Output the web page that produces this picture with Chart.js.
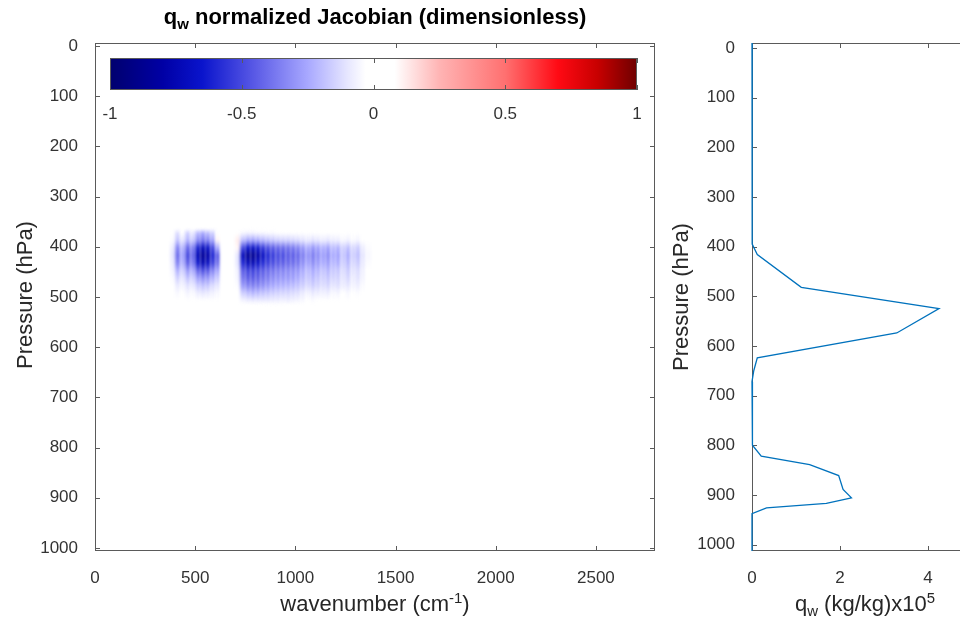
<!DOCTYPE html>
<html>
<head>
<meta charset="utf-8">
<script src="https://cdn.jsdelivr.net/npm/chart.js@4.4.1/dist/chart.umd.min.js"></script>
<style>
  html, body { margin: 0; padding: 0; background: #fff; overflow: hidden; }
  body { width: 960px; height: 622px; position: relative; font-family: "Liberation Sans", Arial, sans-serif; color: #262626; }
  canvas { position: absolute; top: 0; }
  .lbl { position: absolute; font-size: 22px; white-space: nowrap; transform: translate(-50%, -50%); line-height: 1; z-index: 5; }
  .lbl sub, .lbl sup { font-size: 68%; line-height: 0; }
  .rot { transform: translate(-50%, -50%) rotate(-90deg); }
  #title { font-weight: bold; color: #000; }
</style>
</head>
<body>
<canvas id="jac" width="670" height="622" style="left:0"></canvas>
<canvas id="cbar" width="560" height="75" style="left:95px; top:50px"></canvas>
<canvas id="prof" width="290" height="622" style="left:690px"></canvas>

<div class="lbl" id="title" style="left:375px; top:17px">q<sub>w</sub> normalized Jacobian (dimensionless)</div>
<div class="lbl" style="left:375px; top:604px">wavenumber (cm<sup>-1</sup>)</div>
<div class="lbl rot" style="left:25px; top:295px">Pressure (hPa)</div>
<div class="lbl rot" style="left:681px; top:297px">Pressure (hPa)</div>
<div class="lbl" style="left:865px; top:604px">q<sub>w</sub> (kg/kg)x10<sup>5</sup></div>

<script>
// jacobian grid: wavenumber bin edges (cm-1) and pressure rows (hPa)
const wnEdges = [375, 400, 425, 450, 475, 500, 525, 550, 575, 600, 625, 650, 675, 700, 725, 750, 775, 800, 825, 850,
                 875, 900, 925, 950, 975, 1000, 1025, 1050, 1075, 1100, 1125, 1150, 1175, 1200, 1225, 1250, 1275, 1300, 1325, 1350, 1375];
const jacPressure = [372, 387, 402, 417, 432, 447, 462, 477, 492, 507];

// normalized jacobian, one row per pressure level, one value per wavenumber bin
const jacobian = [
  [0, -0.12, 0, -0.15, -0.08, -0.2, -0.25, -0.2, -0.15, 0.08,   0, 0, 0, 0.05, -0.05, -0.06, -0.06, -0.05, -0.05, -0.04,
   -0.04, -0.03, -0.03, -0.03, -0.03, -0.02, -0.02, -0.02, -0.03, -0.02,   -0.02, -0.02, -0.02, -0.02, 0, -0.02, 0, -0.01, 0, 0],
  [-0.04, -0.18, -0.1, -0.22, -0.16, -0.32, -0.38, -0.35, -0.27, 0.1,   0, 0, 0, 0.12, -0.2, -0.26, -0.27, -0.25, -0.22, -0.2,
   -0.18, -0.16, -0.15, -0.15, -0.14, -0.13, -0.11, -0.09, -0.11, -0.1,   -0.08, -0.1, -0.08, -0.08, -0.05, -0.07, -0.04, -0.06, -0.03, -0.01],
  [-0.08, -0.34, -0.21, -0.42, -0.34, -0.61, -0.72, -0.68, -0.51, -0.25,   0, 0, 0, 0.1, -0.5, -0.65, -0.68, -0.64, -0.56, -0.5,
   -0.46, -0.43, -0.42, -0.4, -0.38, -0.35, -0.3, -0.24, -0.3, -0.27,   -0.23, -0.27, -0.2, -0.23, -0.15, -0.2, -0.13, -0.17, -0.08, -0.04],
  [-0.1, -0.4, -0.25, -0.5, -0.4, -0.72, -0.85, -0.8, -0.6, -0.45,   -0.03, 0, 0, -0.1, -0.72, -0.85, -0.88, -0.8, -0.7, -0.6,
   -0.55, -0.5, -0.5, -0.45, -0.45, -0.42, -0.36, -0.3, -0.36, -0.32,   -0.27, -0.32, -0.24, -0.27, -0.17, -0.24, -0.15, -0.2, -0.1, -0.05],
  [-0.08, -0.35, -0.22, -0.44, -0.35, -0.63, -0.75, -0.7, -0.53, -0.4,   -0.02, 0, 0, -0.1, -0.6, -0.72, -0.74, -0.68, -0.6, -0.54,
   -0.5, -0.46, -0.45, -0.42, -0.41, -0.38, -0.32, -0.26, -0.32, -0.28,   -0.24, -0.28, -0.21, -0.24, -0.15, -0.21, -0.13, -0.17, -0.09, -0.04],
  [-0.06, -0.23, -0.15, -0.29, -0.23, -0.42, -0.49, -0.46, -0.35, -0.26,   0, 0, 0, -0.07, -0.45, -0.52, -0.53, -0.5, -0.46, -0.42,
   -0.39, -0.36, -0.35, -0.33, -0.32, -0.3, -0.25, -0.2, -0.25, -0.22,   -0.18, -0.22, -0.17, -0.18, -0.12, -0.17, -0.1, -0.13, -0.07, -0.03],
  [-0.04, -0.15, -0.1, -0.19, -0.15, -0.27, -0.32, -0.3, -0.23, -0.17,   0, 0, 0, -0.06, -0.38, -0.45, -0.46, -0.44, -0.4, -0.37,
   -0.33, -0.31, -0.3, -0.29, -0.28, -0.25, -0.21, -0.17, -0.21, -0.18,   -0.15, -0.18, -0.14, -0.15, -0.1, -0.14, -0.08, -0.11, -0.06, -0.02],
  [-0.02, -0.09, -0.06, -0.11, -0.09, -0.16, -0.19, -0.18, -0.13, -0.1,   0, 0, 0, -0.04, -0.29, -0.35, -0.36, -0.35, -0.32, -0.29,
   -0.26, -0.24, -0.23, -0.22, -0.21, -0.19, -0.16, -0.13, -0.16, -0.14,   -0.12, -0.14, -0.1, -0.12, -0.08, -0.1, -0.06, -0.08, -0.04, -0.01],
  [-0.01, -0.05, -0.03, -0.06, -0.04, -0.08, -0.1, -0.09, -0.07, -0.05,   0, 0, 0, -0.02, -0.16, -0.2, -0.22, -0.21, -0.19, -0.18,
   -0.16, -0.15, -0.14, -0.14, -0.13, -0.12, -0.09, -0.06, -0.09, -0.08,   -0.07, -0.08, -0.05, -0.06, -0.03, -0.05, -0.03, -0.04, -0.02, 0],
  [0, -0.02, 0, -0.02, -0.01, -0.03, -0.03, -0.03, -0.02, -0.02,   0, 0, 0, 0, -0.06, -0.08, -0.09, -0.09, -0.09, -0.09,
   -0.08, -0.08, -0.07, -0.08, -0.07, -0.06, -0.05, -0.03, -0.04, -0.03,   -0.03, -0.03, -0.02, -0.02, -0.01, -0.02, -0.01, -0.01, 0, 0]
];

// blue-white-red colormap
const cmapValues = [-1, -0.8, -0.65, -0.45, -0.25, -0.1, -0.03, 0.08, 0.25, 0.5, 0.7, 0.85, 1];
const cmapColors = ['#00006e', '#0000a5', '#0a14cc', '#5a5ae6', '#a8a8ff', '#e6e6ff', '#ffffff', '#ffffff',
                    '#ffb4b4', '#ff7070', '#ff0a14', '#c80000', '#6e0000'];
const colorbarTicks = [-1, -0.5, 0, 0.5, 1];

const wnTicks = [0, 500, 1000, 1500, 2000, 2500];
const pressureTicks = [0, 100, 200, 300, 400, 500, 600, 700, 800, 900, 1000];

// water vapour profile (x1e5 kg/kg)
const profilePressure = [-10, 100, 200, 300, 372, 395, 416, 482, 525, 574, 624, 650, 672, 750, 800, 822, 839, 861, 889, 906, 917, 926, 938, 1000, 1013];
const profileQw = [0, 0, 0, 0, 0, 0.02, 0.12, 1.12, 4.25, 3.29, 0.12, 0.04, 0, 0, 0.02, 0.21, 1.31, 1.97, 2.07, 2.26, 1.69, 0.33, 0, 0, 0];
const qwTicks = [0, 2, 4];

Chart.defaults.font.family = '"Liberation Sans", Arial, sans-serif';
Chart.defaults.font.size = 17;
Chart.defaults.color = '#333333';

function hexRgb(h) {
  return [parseInt(h.slice(1, 3), 16), parseInt(h.slice(3, 5), 16), parseInt(h.slice(5, 7), 16)];
}
function colorFor(v) {
  if (v <= cmapValues[0]) return cmapColors[0];
  for (let i = 1; i < cmapValues.length; i++) {
    if (v <= cmapValues[i]) {
      const t = (v - cmapValues[i - 1]) / (cmapValues[i] - cmapValues[i - 1]);
      const a = hexRgb(cmapColors[i - 1]), b = hexRgb(cmapColors[i]);
      return 'rgb(' + a.map((c, k) => Math.round(c + (b[k] - c) * t)).join(',') + ')';
    }
  }
  return cmapColors[cmapColors.length - 1];
}

// box around the axes with inward ticks on all sides (matlab style)
const framePlugin = {
  id: 'frame',
  beforeDatasetsDraw(chart) {
    const { ctx, chartArea: a, scales } = chart;
    const len = 5;
    ctx.save();
    ctx.strokeStyle = '#5a5a5a';
    ctx.lineWidth = 1;
    ctx.strokeRect(a.left + 0.5, a.top + 0.5, a.right - a.left - 1, a.bottom - a.top - 1);
    ctx.beginPath();
    scales.x.ticks.forEach(t => {
      const px = Math.round(scales.x.getPixelForValue(t.value)) + 0.5;
      ctx.moveTo(px, a.bottom); ctx.lineTo(px, a.bottom - len);
      ctx.moveTo(px, a.top); ctx.lineTo(px, a.top + len);
    });
    if (scales.y.options.display) {
      scales.y.ticks.forEach(t => {
        const py = Math.round(scales.y.getPixelForValue(t.value)) + 0.5;
        ctx.moveTo(a.left, py); ctx.lineTo(a.left + len, py);
        ctx.moveTo(a.right, py); ctx.lineTo(a.right - len, py);
      });
    }
    ctx.stroke();
    ctx.restore();
  }
};

const heatmapPlugin = {
  id: 'heatmap',
  beforeDraw(chart) {
    const { ctx, chartArea: a, scales: { x, y } } = chart;
    const half = (jacPressure[1] - jacPressure[0]) / 2;
    const yTop = y.getPixelForValue(jacPressure[0] - half);
    const yBot = y.getPixelForValue(jacPressure[jacPressure.length - 1] + half);
    ctx.save();
    ctx.beginPath();
    ctx.rect(a.left, a.top, a.right - a.left, a.bottom - a.top);
    ctx.clip();
    ctx.filter = 'blur(1.6px)';
    for (let c = 0; c < wnEdges.length - 1; c++) {
      const x0 = x.getPixelForValue(wnEdges[c]);
      const x1 = x.getPixelForValue(wnEdges[c + 1]);
      const g = ctx.createLinearGradient(0, yTop, 0, yBot);
      g.addColorStop(0, colorFor(0));
      jacPressure.forEach((p, r) => {
        g.addColorStop((y.getPixelForValue(p) - yTop) / (yBot - yTop), colorFor(jacobian[r][c]));
      });
      g.addColorStop(1, colorFor(0));
      ctx.fillStyle = g;
      ctx.fillRect(x0, yTop, x1 - x0 + 0.6, yBot - yTop);
    }
    ctx.restore();
  }
};

const colorbarPlugin = {
  id: 'colorbar',
  beforeDatasetsDraw(chart) {
    const { ctx, chartArea: a, scales: { x } } = chart;
    const g = ctx.createLinearGradient(x.getPixelForValue(-1), 0, x.getPixelForValue(1), 0);
    cmapValues.forEach((v, i) => g.addColorStop((v + 1) / 2, cmapColors[i]));
    ctx.save();
    ctx.fillStyle = g;
    ctx.fillRect(a.left, a.top, a.right - a.left, a.bottom - a.top);
    ctx.restore();
  }
};

const noGrid = { display: false };

new Chart(document.getElementById('jac'), {
  type: 'scatter',
  data: { datasets: [{ data: [] }] },
  options: {
    responsive: false, animation: false, devicePixelRatio: 1,
    layout: { padding: { top: 43, right: 15, left: 0, bottom: 0 } },
    plugins: { legend: { display: false }, tooltip: { enabled: false } },
    scales: {
      x: {
        type: 'linear', min: 0, max: 2795,
        grid: noGrid, border: { display: false },
        afterBuildTicks: s => { s.ticks = wnTicks.map(v => ({ value: v })); },
        afterFit: s => { s.height = 71; },
        ticks: { padding: 9, maxRotation: 0, callback: v => String(v) }
      },
      y: {
        type: 'linear', reverse: true, min: -6, max: 1006,
        grid: noGrid, border: { display: false },
        afterBuildTicks: s => { s.ticks = pressureTicks.map(v => ({ value: v })); },
        afterFit: s => { s.width = 95; },
        ticks: { padding: 9, callback: v => String(v) }
      }
    }
  },
  plugins: [heatmapPlugin, framePlugin]
});

new Chart(document.getElementById('cbar'), {
  type: 'scatter',
  data: { datasets: [{ data: [] }] },
  options: {
    responsive: false, animation: false, devicePixelRatio: 1,
    layout: { padding: { top: 8, right: 18, left: 15, bottom: 0 } },
    plugins: { legend: { display: false }, tooltip: { enabled: false } },
    scales: {
      x: {
        type: 'linear', min: -1, max: 1,
        grid: noGrid, border: { display: false },
        afterBuildTicks: s => { s.ticks = colorbarTicks.map(v => ({ value: v })); },
        afterFit: s => { s.height = 35; },
        ticks: { padding: 6, maxRotation: 0, callback: v => String(v) }
      },
      y: { display: false, min: 0, max: 1 }
    }
  },
  plugins: [colorbarPlugin, framePlugin]
});

new Chart(document.getElementById('prof'), {
  type: 'scatter',
  data: {
    datasets: [{
      data: profilePressure.map((p, i) => ({ x: profileQw[i], y: p })),
      showLine: true, pointRadius: 0, borderColor: '#0072bd', borderWidth: 1.3, clip: false, tension: 0
    }]
  },
  options: {
    responsive: false, animation: false, devicePixelRatio: 1,
    layout: { padding: { top: 43, right: 8, left: 0, bottom: 0 } },
    plugins: { legend: { display: false }, tooltip: { enabled: false } },
    scales: {
      x: {
        type: 'linear', min: 0, max: 5,
        grid: noGrid, border: { display: false },
        afterBuildTicks: s => { s.ticks = qwTicks.map(v => ({ value: v })); },
        afterFit: s => { s.height = 71; },
        ticks: { padding: 9, maxRotation: 0, callback: v => String(v) }
      },
      y: {
        type: 'linear', reverse: true, min: -10, max: 1013,
        grid: noGrid, border: { display: false },
        afterBuildTicks: s => { s.ticks = pressureTicks.map(v => ({ value: v })); },
        afterFit: s => { s.width = 62; },
        ticks: { padding: 9, callback: v => String(v) }
      }
    }
  },
  plugins: [framePlugin]
});
</script>
</body>
</html>
